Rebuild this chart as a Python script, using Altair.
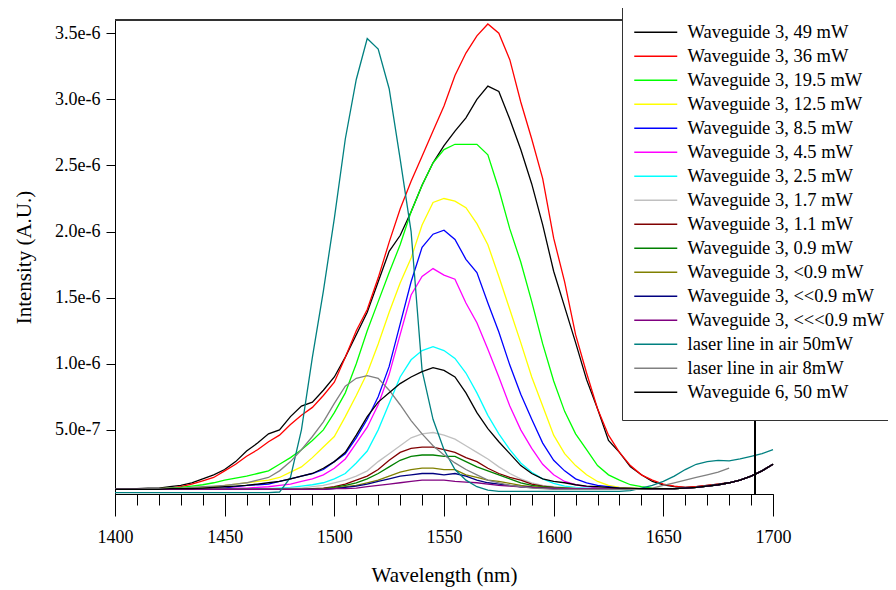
import altair as alt
import pandas as pd

# wavelength grid (nm)
WAVELENGTH = list(range(1400, 1701, 5))

SERIES = [
    "Waveguide 3, 49 mW", "Waveguide 3, 36 mW", "Waveguide 3, 19.5 mW",
    "Waveguide 3, 12.5 mW", "Waveguide 3, 8.5 mW", "Waveguide 3, 4.5 mW",
    "Waveguide 3, 2.5 mW", "Waveguide 3, 1.7 mW", "Waveguide 3, 1.1 mW",
    "Waveguide 3, 0.9 mW", "Waveguide 3, <0.9 mW", "Waveguide 3, <<0.9 mW",
    "Waveguide 3, <<<0.9 mW", "laser line in air 50mW", "laser line in air 8mW",
    "Waveguide 6, 50 mW",
]
COLORS = [
    "#000000", "#ff0000", "#00ff00", "#ffff00", "#0000ff", "#ff00ff",
    "#00ffff", "#c0c0c0", "#800000", "#008000", "#808000", "#000080",
    "#800080", "#008080", "#808080", "#000000",
]

# tick positions
MAJOR_TICKS = [1400, 1450, 1500, 1550, 1600, 1650, 1700]
MINOR_TICKS = list(range(1400, 1701, 10))
Y_TICKS = [5e-7, 1e-6, 1.5e-6, 2e-6, 2.5e-6, 3e-6, 3.5e-6]

# intensities in units of 1e-6
wg3_49 = [0.05, 0.05, 0.055, 0.06, 0.06, 0.07, 0.08, 0.10, 0.13, 0.16,
          0.20, 0.26, 0.34, 0.40, 0.47, 0.50, 0.60, 0.68, 0.71, 0.80,
          0.90, 1.05, 1.22, 1.39, 1.62, 1.85, 1.97, 2.15, 2.35, 2.52,
          2.65, 2.76, 2.86, 3.00, 3.10, 3.06, 2.85, 2.62, 2.36, 2.05,
          1.70, 1.43, 1.16, 0.88, 0.66, 0.42, 0.33, 0.22, 0.16, 0.11,
          0.085, 0.07, 0.065, 0.07, 0.08, 0.09, 0.10, 0.12, 0.15, 0.19, 0.24]
wg3_36 = [0.05, 0.05, 0.05, 0.055, 0.055, 0.06, 0.07, 0.09, 0.115, 0.14,
          0.19, 0.24, 0.30, 0.35, 0.41, 0.46, 0.54, 0.61, 0.67, 0.76,
          0.86, 1.05, 1.25, 1.41, 1.65, 1.92, 2.17, 2.38, 2.57, 2.76,
          2.95, 3.18, 3.35, 3.48, 3.57, 3.50, 3.30, 2.98, 2.70, 2.40,
          1.95, 1.62, 1.22, 0.93, 0.66, 0.46, 0.33, 0.23, 0.16, 0.12,
          0.09, 0.075, 0.065, 0.07, 0.08, 0.09, 0.10, 0.12, 0.15, 0.19, 0.24]
wg3_195 = [0.05, 0.05, 0.05, 0.05, 0.055, 0.06, 0.065, 0.075, 0.085, 0.10,
           0.12, 0.135, 0.15, 0.17, 0.19, 0.24, 0.29, 0.35, 0.42, 0.50,
           0.63, 0.78, 1.00, 1.25, 1.47, 1.69, 1.90, 2.15, 2.35, 2.52,
           2.62, 2.66, 2.66, 2.66, 2.58, 2.32, 2.02, 1.77, 1.47, 1.15,
           0.87, 0.64, 0.47, 0.35, 0.23, 0.16, 0.12, 0.085, 0.07, 0.06,
           0.055, 0.055, 0.06, 0.065, 0.075, 0.085, 0.10, 0.12, 0.15, 0.19, 0.24]
wg3_125 = [0.05, 0.05, 0.05, 0.05, 0.05, 0.055, 0.055, 0.06, 0.06, 0.07,
           0.08, 0.09, 0.10, 0.11, 0.12, 0.14, 0.18, 0.22, 0.29, 0.37,
           0.45, 0.60, 0.76, 0.93, 1.15, 1.39, 1.61, 1.80, 2.05, 2.22,
           2.25, 2.23, 2.18, 2.06, 1.90, 1.66, 1.41, 1.16, 0.90, 0.68,
           0.46, 0.32, 0.23, 0.16, 0.11, 0.08, 0.065, 0.06, 0.055, 0.055,
           0.055, 0.055, 0.06, 0.065, 0.075, 0.085, 0.10, 0.12, 0.15, 0.19, 0.24]
wg3_85 = [0.05, 0.05, 0.05, 0.05, 0.05, 0.05, 0.05, 0.055, 0.055, 0.06,
          0.06, 0.07, 0.08, 0.085, 0.09, 0.11, 0.13, 0.15, 0.17, 0.20,
          0.26, 0.32, 0.44, 0.58, 0.75, 0.98, 1.30, 1.62, 1.88, 1.98,
          2.01, 1.94, 1.79, 1.69, 1.46, 1.24, 0.99, 0.77, 0.58, 0.40,
          0.27, 0.19, 0.13, 0.10, 0.08, 0.07, 0.06, 0.055, 0.055, 0.055,
          0.055, 0.055, 0.06, 0.065, 0.075, 0.085, 0.10, 0.12, 0.15, 0.19, 0.24]
wg3_45 = [0.05, 0.05, 0.05, 0.05, 0.05, 0.05, 0.05, 0.05, 0.055, 0.055,
          0.055, 0.06, 0.06, 0.065, 0.07, 0.08, 0.09, 0.11, 0.13, 0.16,
          0.21, 0.28, 0.40, 0.52, 0.69, 0.92, 1.22, 1.52, 1.66, 1.72,
          1.67, 1.64, 1.46, 1.31, 1.11, 0.90, 0.68, 0.50, 0.36, 0.24,
          0.16, 0.11, 0.085, 0.07, 0.06, 0.055, 0.055, 0.055, 0.055, 0.055,
          0.055, 0.055, 0.06, 0.065, 0.075, 0.085, 0.10, 0.12, 0.15, 0.19, 0.24]
wg3_25 = [0.05, 0.05, 0.05, 0.05, 0.05, 0.05, 0.05, 0.05, 0.05, 0.05,
          0.05, 0.05, 0.05, 0.055, 0.055, 0.06, 0.065, 0.075, 0.085, 0.10,
          0.13, 0.17, 0.25, 0.34, 0.50, 0.70, 0.90, 1.03, 1.10, 1.13,
          1.10, 1.04, 0.93, 0.78, 0.61, 0.47, 0.35, 0.25, 0.18, 0.13,
          0.095, 0.075, 0.065, 0.06, 0.055, 0.055, 0.055, 0.055, 0.055, 0.055,
          0.055, 0.055, 0.06, 0.065, 0.075, 0.085, 0.10, 0.12, 0.15, 0.19, 0.24]
wg3_17 = [0.05, 0.05, 0.05, 0.05, 0.05, 0.05, 0.05, 0.05, 0.05, 0.05,
          0.05, 0.05, 0.05, 0.05, 0.055, 0.055, 0.06, 0.06, 0.07, 0.08,
          0.10, 0.12, 0.15, 0.19, 0.26, 0.32, 0.38, 0.44, 0.47, 0.48,
          0.46, 0.43, 0.38, 0.33, 0.28, 0.22, 0.17, 0.13, 0.10, 0.08,
          0.07, 0.065, 0.06, 0.055, 0.055, 0.055, 0.055, 0.055, 0.055, 0.055,
          0.055, 0.055, 0.06, 0.065, 0.075, 0.085, 0.10, 0.12, 0.15, 0.19, 0.24]
wg3_11 = [0.05, 0.05, 0.05, 0.05, 0.05, 0.05, 0.05, 0.05, 0.05, 0.05,
          0.05, 0.05, 0.05, 0.05, 0.05, 0.05, 0.05, 0.05, 0.055, 0.06,
          0.07, 0.09, 0.12, 0.15, 0.20, 0.27, 0.33, 0.36, 0.37, 0.37,
          0.35, 0.33, 0.29, 0.26, 0.21, 0.17, 0.14, 0.12, 0.09, 0.075,
          0.065, 0.06, 0.055, 0.055, 0.055, 0.055, 0.055, 0.055, 0.055, 0.055,
          0.055, 0.055, 0.06, 0.065, 0.075, 0.085, 0.10, 0.12, 0.15, 0.19, 0.24]
wg3_09 = [0.05, 0.05, 0.05, 0.05, 0.05, 0.05, 0.05, 0.05, 0.05, 0.05,
          0.05, 0.05, 0.05, 0.05, 0.05, 0.05, 0.05, 0.05, 0.05, 0.055,
          0.065, 0.08, 0.10, 0.13, 0.17, 0.22, 0.27, 0.30, 0.31, 0.31,
          0.30, 0.30, 0.26, 0.22, 0.19, 0.16, 0.13, 0.10, 0.08, 0.07,
          0.065, 0.06, 0.055, 0.055, 0.055, 0.055, 0.055, 0.055, 0.055, 0.055,
          0.055, 0.055, 0.06, 0.065, 0.075, 0.085, 0.10, 0.12, 0.15, 0.19, 0.24]
wg3_lt09 = [0.05, 0.05, 0.05, 0.05, 0.05, 0.05, 0.05, 0.05, 0.05, 0.05,
            0.05, 0.05, 0.05, 0.05, 0.05, 0.05, 0.05, 0.05, 0.05, 0.055,
            0.06, 0.07, 0.08, 0.10, 0.12, 0.15, 0.18, 0.20, 0.21, 0.21,
            0.20, 0.20, 0.16, 0.14, 0.12, 0.11, 0.095, 0.08, 0.07, 0.065,
            0.06, 0.055, 0.055, 0.055, 0.055, 0.055, 0.055, 0.055, 0.055, 0.055,
            0.055, 0.055, 0.06, 0.065, 0.075, 0.085, 0.10, 0.12, 0.15, 0.19, 0.24]
wg3_llt09 = [0.05, 0.05, 0.05, 0.05, 0.05, 0.05, 0.05, 0.05, 0.05, 0.05,
             0.05, 0.05, 0.05, 0.05, 0.05, 0.05, 0.05, 0.05, 0.05, 0.05,
             0.055, 0.065, 0.075, 0.09, 0.11, 0.13, 0.15, 0.16, 0.17, 0.17,
             0.16, 0.17, 0.15, 0.12, 0.10, 0.09, 0.08, 0.07, 0.065, 0.06,
             0.055, 0.055, 0.055, 0.055, 0.055, 0.055, 0.055, 0.055, 0.055, 0.055,
             0.055, 0.055, 0.06, 0.065, 0.075, 0.085, 0.10, 0.12, 0.15, 0.19, 0.24]
wg3_lllt09 = [0.05, 0.05, 0.05, 0.05, 0.05, 0.05, 0.05, 0.05, 0.05, 0.05,
              0.05, 0.05, 0.05, 0.05, 0.05, 0.05, 0.05, 0.05, 0.05, 0.05,
              0.055, 0.055, 0.06, 0.07, 0.08, 0.09, 0.10, 0.11, 0.12, 0.12,
              0.12, 0.11, 0.105, 0.10, 0.09, 0.08, 0.075, 0.07, 0.065, 0.06,
              0.06, 0.055, 0.055, 0.055, 0.055, 0.055, 0.055, 0.055, 0.055, 0.055,
              0.055, 0.055, 0.06, 0.065, 0.075, 0.085, 0.10, 0.12, 0.15, 0.19, 0.24]
laser_50 = [0.025, 0.025, 0.025, 0.025, 0.025, 0.025, 0.025, 0.025, 0.025, 0.025,
            0.025, 0.025, 0.025, 0.025, 0.025, 0.03, 0.14, 0.50, 1.05, 1.55,
            2.10, 2.70, 3.15, 3.46, 3.38, 3.08, 2.55, 2.00, 0.95, 0.58,
            0.35, 0.20, 0.12, 0.07, 0.045, 0.035, 0.035, 0.035, 0.035, 0.035,
            0.035, 0.035, 0.035, 0.035, 0.035, 0.035, 0.035, 0.04, 0.06, 0.08,
            0.11, 0.15, 0.20, 0.24, 0.26, 0.27, 0.265, 0.28, 0.30, 0.32, 0.35]
laser_8 = [0.05, 0.05, 0.05, 0.055, 0.055, 0.06, 0.06, 0.065, 0.07, 0.075,
           0.08, 0.09, 0.10, 0.12, 0.14, 0.19, 0.26, 0.35, 0.45, 0.56,
           0.70, 0.83, 0.89, 0.91, 0.89, 0.80, 0.69, 0.57, 0.47, 0.38,
           0.31, 0.25, 0.20, 0.16, 0.12, 0.10, 0.08, 0.07, 0.06, 0.055,
           0.05, 0.05, 0.05, 0.05, 0.05, 0.05, 0.05, 0.05, 0.05, 0.06,
           0.08, 0.10, 0.12, 0.14, 0.16, 0.18, 0.21, None, None, None, None]
wg6_50 = [0.05, 0.05, 0.05, 0.05, 0.05, 0.055, 0.055, 0.055, 0.06, 0.065,
          0.07, 0.075, 0.08, 0.09, 0.10, 0.11, 0.13, 0.15, 0.17, 0.21,
          0.26, 0.33, 0.46, 0.60, 0.71, 0.78, 0.85, 0.90, 0.94, 0.97,
          0.95, 0.90, 0.78, 0.63, 0.51, 0.41, 0.32, 0.23, 0.17, 0.13,
          0.11, 0.10, 0.085, 0.075, 0.07, 0.065, 0.06, 0.06, 0.055, 0.055,
          0.055, 0.055, 0.06, 0.065, 0.075, 0.085, 0.10, 0.12, 0.15, 0.19, 0.24]

VALUES = [wg3_49, wg3_36, wg3_195, wg3_125, wg3_85, wg3_45, wg3_25, wg3_17,
          wg3_11, wg3_09, wg3_lt09, wg3_llt09, wg3_lllt09, laser_50, laser_8, wg6_50]

rows = []
for name, vals in zip(SERIES, VALUES):
    for wl, v in zip(WAVELENGTH, vals):
        if v is not None:
            rows.append({"wl": wl, "val": v * 1e-6, "series": name})
df = pd.DataFrame(rows)

X_MIN, X_MAX = 1400, 1700
Y_MIN, Y_MAX = 1.5e-8, 3.6e-6
FRAME_RIGHT = 1691.8

xscale = alt.Scale(domain=[X_MIN, X_MAX], nice=False, zero=False)
yscale = alt.Scale(domain=[Y_MIN, Y_MAX], nice=False, zero=False)

FONT = "Liberation Serif"

major_axis = alt.Axis(
    title="Wavelength (nm)", orient="bottom",
    values=MAJOR_TICKS, tickSize=22,
    format="d", labelPadding=12, titlePadding=18, labelFlush=False,
)
minor_axis = alt.Axis(
    title=None, orient="bottom", values=MINOR_TICKS, tickSize=11,
    labels=False, domain=False,
)
y_axis = alt.Axis(
    title="Intensity (A.U.)",
    values=Y_TICKS,
    format=".1e", tickSize=9, labelPadding=6, titlePadding=20,
)

lines = alt.Chart(df).mark_line(strokeWidth=1.3).encode(
    x=alt.X("wl:Q", scale=xscale, axis=major_axis),
    y=alt.Y("val:Q", scale=yscale, axis=y_axis),
    color=alt.Color("series:N", sort=SERIES,
                    scale=alt.Scale(domain=SERIES, range=COLORS),
                    legend=alt.Legend(
                        title=None, orient="none", legendX=507, legendY=-15,
                        symbolType="M-3,0H5.6", symbolSize=100, symbolStrokeWidth=1.5,
                        labelFont=FONT, labelFontSize=18.5, labelColor="black",
                        labelOffset=29, rowPadding=5, padding=18, labelLimit=400,
                        fillColor="white", strokeColor="#333333",
                    )),
)

top_rule = alt.Chart(df).mark_rule(color="#333333", strokeWidth=1).encode(
    y=alt.datum(Y_MAX)
)
right_rule = alt.Chart(df).mark_rule(color="black", strokeWidth=1).encode(
    x=alt.X(datum=FRAME_RIGHT, type="quantitative", scale=xscale, axis=minor_axis)
)

chart = alt.layer(lines, right_rule, top_rule).resolve_axis(
    x="independent"
).properties(
    width=658, height=474,
    padding={"left": 107, "top": 12, "right": 115, "bottom": 96},
    autosize="none",
).configure_view(stroke=None).configure_axis(
    grid=False, labelFont=FONT, titleFont=FONT, labelFontSize=18,
    titleFontSize=21, titleFontWeight="normal", labelColor="black",
    titleColor="black", domainColor="black", tickColor="black",
)

chart.save("out.html", embed_options={"renderer": "svg", "actions": False})
